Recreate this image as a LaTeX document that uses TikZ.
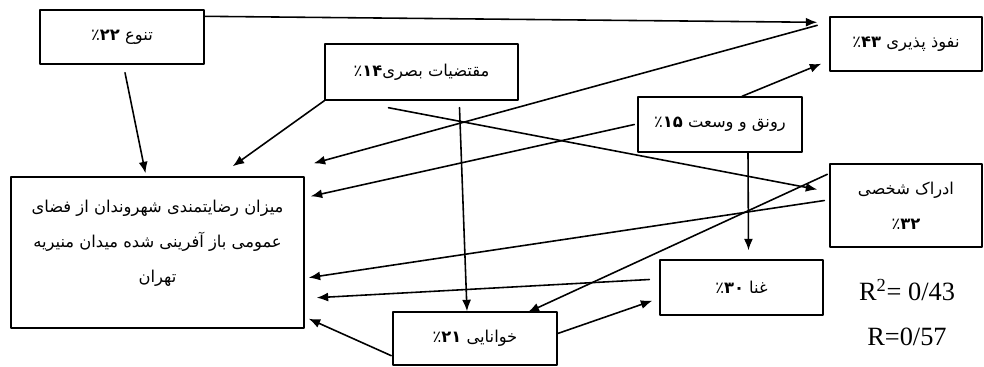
\documentclass[tikz,border=0pt]{standalone}
\usepackage{fontspec}
\usetikzlibrary{arrows.meta,calc}
\newfontfamily\farsi[Script=Arabic]{DejaVu Sans}
\newfontfamily\latinserif{Liberation Serif}
\TeXXeTstate=1
\newcommand\fa[1]{\beginR #1\endR}
\newcommand\pc[1]{\beginL ٪{\bfseries #1}\endL}
\begin{document}
\begin{tikzpicture}[>={Latex[length=2.3mm,width=1.8mm]},line join=round,line cap=round,x=.02cm,y=-.02cm,
	box/.style={draw,line width=.8pt,inner sep=0pt,align=center,font=\farsi\fontsize{9.3}{20}\selectfont},
	link/.style={->,line width=.9pt}]
		\useasboundingbox (0,0) rectangle (984,366);
		\path
		(157.5,252.5) node[box,minimum width=5.86cm,minimum height=3.02cm,text depth=.45cm] (main)
		{\fa{میزان رضایتمندی شهروندان از فضای}\\\fa{عمومی باز آفرینی شده میدان منیریه}\\\fa{تهران}}
		(122,37) node[box,minimum width=3.28cm,minimum height=1.08cm] (tanavo) {\fa{تنوع \pc{۲۲}}}
		(421.5,72) node[box,minimum width=3.86cm,minimum height=1.12cm] (moghtazayat) {\fa{مقتضیات بصری\pc{۱۴}}}
		(906,44) node[box,minimum width=3.04cm,minimum height=1.08cm] (nofooz) {\fa{نفوذ پذیری \pc{۴۳}}}
		(720,124.5) node[box,minimum width=3.28cm,minimum height=1.1cm] (ronagh) {\fa{رونق و وسعت \pc{۱۵}}}
		(906,205.5) node[box,minimum width=3.04cm,minimum height=1.66cm] (edrak) {\fa{ادراک شخصی}\\\fa{\pc{۳۲}}}
		(741.5,287.5) node[box,minimum width=3.26cm,minimum height=1.1cm] (ghana) {\fa{غنا \pc{۳۰}}}
		(475,338.5) node[box,minimum width=3.28cm,minimum height=1.06cm] (khanaei) {\fa{خوانایی \pc{۲۱}}}
		(907,290) node[font=\latinserif\fontsize{15}{17}\selectfont] (rsq) {R\textsuperscript{2}= 0/43}
		(907,337) node[font=\latinserif\fontsize{15}{17}\selectfont] (r) {R=0/57}
		;
		\draw[link] ($(tanavo.north east)+(0,7)$)--($(nofooz.north west)+(-12,6)$);
		\draw[link] ($(tanavo.south)+(3,8)$)--($(main.north)+(-12,-3)$);
		\draw[link] (moghtazayat.south west)--($(main.north east)+(-72,-10)$);
		\draw[link] ($(nofooz.north west)+(-12,9)$)--($(main.north east)+(9,-13)$);
		\draw[link] ($(ronagh.north)+(22,0)$)--($(nofooz.south west)+(-8,-8)$);
		\draw[link] ($(ronagh.west)+(-3,0)$)--($(main.north east)+(6,20)$);
		\draw[link] ($(moghtazayat.south)+(-33,7)$)--($(edrak.west)+(-12,-16)$);
		\draw[link] ($(moghtazayat.south)+(38,7)$)--($(khanaei.north)+(-8,0)$);
		\draw[link] ($(ronagh.south)+(28,0)$)--($(ghana.north)+(7,-9)$);
		\draw[link] ($(edrak.north west)+(-2,11)$)--($(khanaei.north east)+(-30,1)$);
		\draw[link] ($(edrak.west)+(-5,-5)$)--($(main.south east)+(4,-51)$);
		\draw[link] ($(ghana.west)+(-10,-8)$)--($(main.south east)+(12,-31)$);
		\draw[link] ($(khanaei.south west)+(-1,-10)$)--($(main.south east)+(4,-10)$);
		\draw[link] ($(khanaei.east)+(0,-5)$)--($(ghana.south west)+(-7,-15)$);
\end{tikzpicture}
\end{document}
